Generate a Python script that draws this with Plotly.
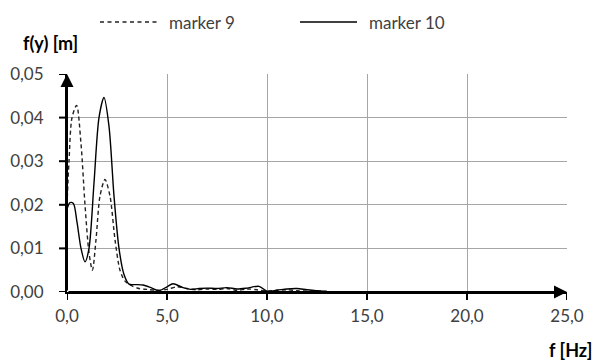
import plotly.graph_objects as go

# ---- data ----
freq_m9 = [0.0, 0.1, 0.25, 0.48, 0.7, 0.9, 1.1, 1.27, 1.45, 1.65, 1.9, 2.15, 2.4, 2.65, 2.9, 3.2, 3.6, 4.0, 4.5, 5.0, 5.5, 6.0, 6.5, 7.0, 7.5, 8.0, 8.5, 9.0, 9.5, 10.0, 10.5, 11.0, 11.5, 12.0, 12.5, 13.0]
amp_m9 = [0.020, 0.030, 0.040, 0.0428, 0.034, 0.020, 0.009, 0.0050, 0.012, 0.022, 0.0258, 0.022, 0.012, 0.005, 0.0025, 0.0015, 0.0008, 0.0006, 0.0004, 0.0006, 0.0012, 0.0008, 0.0005, 0.0007, 0.0006, 0.0008, 0.0004, 0.0007, 0.0005, 0.0002, 0.0004, 0.0005, 0.0003, 0.0002, 0.0002, 0.0001]

freq_m10 = [0.0, 0.15, 0.32, 0.5, 0.7, 0.9, 1.1, 1.35, 1.6, 1.85, 2.1, 2.35, 2.6, 2.85, 3.1, 3.4, 3.8, 4.2, 4.6, 5.0, 5.3, 5.8, 6.2, 6.6, 7.0, 7.5, 8.0, 8.5, 9.0, 9.6, 10.0, 10.5, 11.0, 11.5, 12.0, 12.5, 13.0]
amp_m10 = [0.019, 0.0205, 0.0203, 0.016, 0.010, 0.0069, 0.010, 0.025, 0.040, 0.0446, 0.038, 0.022, 0.010, 0.004, 0.0018, 0.0017, 0.0016, 0.0010, 0.0003, 0.0012, 0.0019, 0.0010, 0.0006, 0.0008, 0.0009, 0.0008, 0.0010, 0.0007, 0.0009, 0.0013, 0.0002, 0.0004, 0.0007, 0.0008, 0.0005, 0.0003, 0.0001]

series_names = ["marker 9", "marker 10"]
x_ticks = [0, 5, 10, 15, 20, 25]
y_ticks = [0.0, 0.01, 0.02, 0.03, 0.04, 0.05]

FONT = "Lato"
GRAY = "#404040"

fig = go.Figure()
fig.add_trace(go.Scatter(x=freq_m9, y=amp_m9, mode="lines", name=series_names[0],
                         line=dict(color="#222222", width=1.4, dash="4px,3px", shape="spline", smoothing=0.8)))
fig.add_trace(go.Scatter(x=freq_m10, y=amp_m10, mode="lines", name=series_names[1],
                         line=dict(color="#000000", width=1.4, shape="spline", smoothing=0.8)))

fig.update_layout(
    template="none",
    width=595, height=360,
    margin=dict(l=67, r=28, t=74, b=68),
    paper_bgcolor="white", plot_bgcolor="white",
    showlegend=False,
    separators=",.",
    font=dict(family=FONT, size=17, color=GRAY),
    xaxis=dict(range=[0, 25], tickmode="array", tickvals=x_ticks, tickformat=".1f",
               showgrid=True, gridcolor="#a6a6a6", gridwidth=1,
               zeroline=False, showline=True, linewidth=2, linecolor="black",
               ticks="", ticklabelstandoff=8, automargin=False,
               tickfont=dict(family=FONT, size=17, color=GRAY)),
    yaxis=dict(range=[0, 0.05], tickmode="array", tickvals=y_ticks, tickformat=".2f",
               showgrid=True, gridcolor="#a6a6a6", gridwidth=1,
               zeroline=False, showline=True, linewidth=2, linecolor="black",
               ticks="", ticklabelstandoff=18, automargin=False,
               tickfont=dict(family=FONT, size=17, color=GRAY)),
)

# outside tick marks at the tick values (length ~8 px)
for xv in x_ticks:
    fig.add_shape(type="line", xref="x", yref="paper", x0=xv, x1=xv, y0=0, y1=-8 / 218,
                  line=dict(color="black", width=2), layer="above")
for yv in y_ticks:
    fig.add_shape(type="line", xref="paper", yref="y", x0=-8 / 500, x1=0, y0=yv, y1=yv,
                  line=dict(color="black", width=2), layer="above")

# arrowheads at the ends of the axes
fig.add_annotation(x=0, y=0.05, ax=0, ay=0, xref="x", yref="y", axref="x", ayref="y",
                   showarrow=True, arrowhead=2, arrowsize=1.3, arrowwidth=2, arrowcolor="black", text="")
fig.add_annotation(x=25, y=0, ax=0, ay=0, xref="x", yref="y", axref="x", ayref="y",
                   showarrow=True, arrowhead=2, arrowsize=1.3, arrowwidth=2, arrowcolor="black", text="")

# axis titles
fig.add_annotation(x=-0.092, y=1.142, xref="paper", yref="paper", xanchor="left", yanchor="middle",
                   text="<b>f(y) [m]</b>", showarrow=False, font=dict(family=FONT, size=18, color="black"))
fig.add_annotation(x=1.054, y=-0.266, xref="paper", yref="paper", xanchor="right", yanchor="middle",
                   text="<b>f [Hz]</b>", showarrow=False, font=dict(family=FONT, size=18, color="black"))

# manual legend
leg_y = 1.2385
fig.add_shape(type="line", xref="paper", yref="paper", x0=0.066, x1=0.186, y0=leg_y, y1=leg_y,
              line=dict(color="#222222", width=1.3, dash="4px,3.5px"))
fig.add_annotation(x=0.2, y=leg_y, xref="paper", yref="paper", xanchor="left", yanchor="middle",
                   text=series_names[0], showarrow=False, font=dict(family=FONT, size=17, color=GRAY))
fig.add_shape(type="line", xref="paper", yref="paper", x0=0.466, x1=0.58, y0=leg_y, y1=leg_y,
              line=dict(color="black", width=1.3))
fig.add_annotation(x=0.6, y=leg_y, xref="paper", yref="paper", xanchor="left", yanchor="middle",
                   text=series_names[1], showarrow=False, font=dict(family=FONT, size=17, color=GRAY))

fig.write_html("out.html")
